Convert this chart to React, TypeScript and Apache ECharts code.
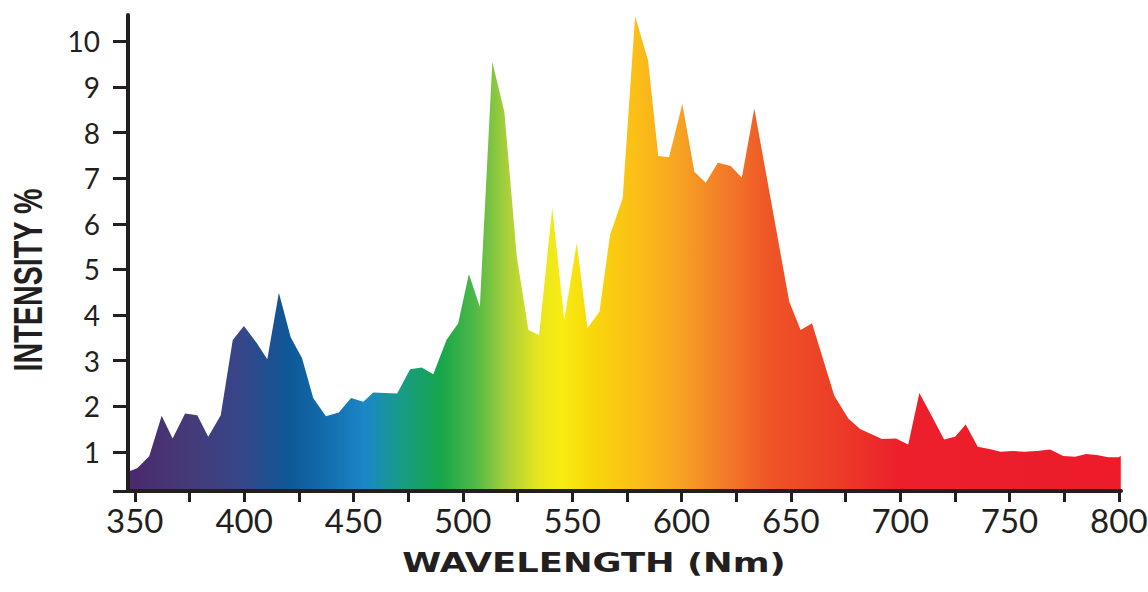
import React, { useEffect, useRef } from "react";
import * as echarts from "echarts";

// Wavelength (nm) of each vertex of the spectrum
const wavelengths = [
  347.8, 351.1, 356.6, 362.3, 367.3, 373.0, 378.6, 383.6, 389.3, 394.8,
  399.9, 405.7, 410.6, 415.9, 421.3, 426.5, 431.6, 437.4, 443.3, 448.9,
  454.5, 459.1, 464.4, 470.0, 475.9, 481.2, 486.5, 492.6, 497.9, 502.8,
  507.8, 513.5, 519.0, 524.7, 530.0, 534.9, 540.9, 546.4, 552.1, 557.0,
  562.5, 567.3, 573.1, 578.8, 584.7, 589.4, 594.3, 600.4, 605.9, 611.1,
  616.6, 622.5, 627.6, 633.3, 649.3, 654.5, 659.7, 669.9, 676.3, 681.7,
  691.7, 698.1, 703.7, 708.8, 714.4, 720.1, 725.1, 730.0, 735.5, 740.8,
  746.0, 751.5, 756.8, 762.5, 768.6, 774.6, 780.0, 785.0, 789.9, 795.2,
  799.8, 800.9,
];

// Relative intensity (%) at each wavelength
const intensity = [
  0.58, 0.64, 0.9, 1.79, 1.29, 1.84, 1.8, 1.33, 1.8, 3.45,
  3.76, 3.39, 3.03, 4.49, 3.51, 3.05, 2.18, 1.78, 1.86, 2.18,
  2.1, 2.3, 2.29, 2.28, 2.81, 2.85, 2.7, 3.46, 3.82, 4.9,
  4.18, 9.55, 8.46, 5.28, 3.67, 3.56, 6.35, 3.89, 5.58, 3.71,
  4.07, 5.75, 6.56, 10.56, 9.59, 7.49, 7.46, 8.63, 7.14, 6.9,
  7.34, 7.27, 7.01, 8.53, 4.29, 3.67, 3.82, 2.23, 1.73, 1.5,
  1.28, 1.29, 1.16, 2.29, 1.79, 1.27, 1.33, 1.6, 1.11, 1.06,
  1.0, 1.02, 1.0, 1.02, 1.05, 0.91, 0.89, 0.95, 0.93, 0.88,
  0.88, 0.91,
];

const xTickValues = [350, 375, 400, 425, 450, 475, 500, 525, 550, 575, 600, 625, 650, 675, 700, 725, 750, 775, 800];
const xLabelValues = [350, 400, 450, 500, 550, 600, 650, 700, 750, 800];
const yLabelValues = [1, 2, 3, 4, 5, 6, 7, 8, 9, 10];

const X_MIN = 346.9;
const X_MAX = 801;
const Y_MIN = 0.14;
const Y_MAX = 10.58;

// spectrum colour stops (wavelength, colour)
const stopNm = [347.8, 375, 400, 420, 440, 455, 470, 490, 505, 520, 535, 545, 560, 580, 600, 620, 640, 670, 700, 801];
const stopColors = [
  "#4a2a6c", "#463a78", "#34478a", "#0e5796", "#1470b0", "#1b86c8", "#189a8c", "#17a64a", "#4cb848", "#a8cf3a",
  "#e8e61f", "#f7ec12", "#f8d60a", "#fbbd17", "#f6a123", "#f27b29", "#ef5526", "#ec3e27", "#ec1f2b", "#ec1c2a",
];

const INK = "#231f20";

export default function App() {
  const ref = useRef<HTMLDivElement>(null);
  useEffect(() => {
    if (!ref.current) return;
    const chart = echarts.init(ref.current, null, { renderer: "svg" });
    const lo = wavelengths[0];
    const hi = wavelengths[wavelengths.length - 1];
    const stops = stopNm.map((nm, i) => ({
      offset: Math.min(1, Math.max(0, (nm - lo) / (hi - lo))),
      color: stopColors[i],
    }));
    const data = wavelengths.map((w, i) => [w, intensity[i]]);
    chart.setOption({
      animation: false,
      backgroundColor: "#ffffff",
      grid: { left: 128, right: 27, top: 15, bottom: 101, containLabel: false, outerBoundsMode: "none" },
      xAxis: {
        type: "value",
        min: X_MIN,
        max: X_MAX,
        z: 5,
        axisLine: { show: true, lineStyle: { color: INK, width: 4 } },
        axisTick: { show: true, customValues: xTickValues, length: 11, lineStyle: { color: INK, width: 3 } },
        axisLabel: {
          customValues: xLabelValues,
          margin: 12,
          color: INK,
          fontFamily: "Lato",
          fontSize: 33,
        },
        splitLine: { show: false },
      },
      yAxis: {
        type: "value",
        min: Y_MIN,
        max: Y_MAX,
        z: 5,
        axisLine: { show: true, onZero: false, lineStyle: { color: INK, width: 4 } },
        axisTick: { show: true, customValues: [Y_MIN, ...yLabelValues], length: 15, lineStyle: { color: INK, width: 3 } },
        axisLabel: {
          customValues: yLabelValues,
          margin: 28,
          color: INK,
          fontFamily: "Lato",
          fontSize: 28,
        },
        splitLine: { show: false },
      },
      graphic: [
        {
          type: "text",
          x: 594,
          y: 563,
          scaleX: 1.31,
          style: {
            text: "WAVELENGTH (Nm)",
            fill: INK,
            font: "bold 27px 'DejaVu Sans'",
            textAlign: "center",
            textVerticalAlign: "middle",
          },
        },
        {
          type: "text",
          x: 28,
          y: 280,
          rotation: Math.PI / 2,
          scaleX: 0.7,
          style: {
            text: "INTENSITY %",
            fill: INK,
            font: "bold 41px 'Liberation Sans'",
            textAlign: "center",
            textVerticalAlign: "middle",
          },
        },
      ],
      series: [
        {
          type: "line",
          data,
          symbol: "none",
          lineStyle: { width: 0 },
          areaStyle: {
            origin: "start",
            opacity: 1,
            color: new echarts.graphic.LinearGradient(0, 0, 1, 0, stops),
          },
        },
      ],
    });
    return () => chart.dispose();
  }, []);
  return (
    <div
      ref={ref}
      style={{ position: "fixed", left: 0, top: 0, width: 1148, height: 592, background: "#fff" }}
    />
  );
}
